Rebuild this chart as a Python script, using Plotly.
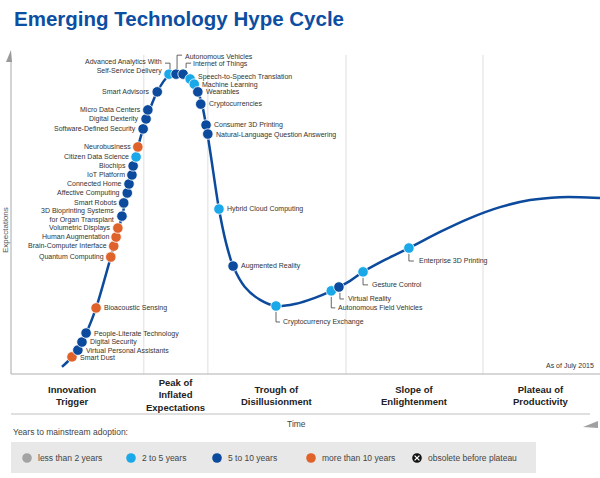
import plotly.graph_objects as go

W, H = 600, 478

# ---------------- data ----------------
names = [
    "Smart Dust", "Virtual Personal Assistants", "Digital Security", "People-Literate Technology",
    "Bioacoustic Sensing", "Quantum Computing", "Brain-Computer Interface", "Human Augmentation",
    "Volumetric Displays", "3D Bioprinting Systems<br>for Organ Transplant", "Smart Robots",
    "Affective Computing", "Connected Home", "IoT Platform", "Biochips", "Citizen Data Science",
    "Neurobusiness", "Software-Defined Security", "Digital Dexterity", "Micro Data Centers",
    "Smart Advisors", "Advanced Analytics With<br>Self-Service Delivery", "Autonomous Vehicles",
    "Internet of Things", "Speech-to-Speech Translation", "Machine Learning", "Wearables",
    "Cryptocurrencies", "Consumer 3D Printing", "Natural-Language Question Answering",
    "Hybrid Cloud Computing", "Augmented Reality", "Cryptocurrency Exchange",
    "Autonomous Field Vehicles", "Virtual Reality", "Gesture Control", "Enterprise 3D Printing",
]
time_pos = [
    10.2, 11.2, 11.9, 12.6, 14.3, 16.8, 17.3, 17.7, 18.0, 18.7, 19.0, 19.6, 19.9, 20.4, 20.6, 21.1,
    21.4, 22.3, 22.8, 23.1, 24.7, 26.7, 27.9, 29.1, 30.3, 31.0, 31.6, 32.1, 33.0, 33.3, 35.2, 37.6,
    44.9, 54.3, 55.6, 59.7, 67.5,
]
expectation = [
    4.7, 6.8, 9.3, 12.1, 19.9, 35.7, 39.1, 41.9, 44.7, 48.4, 52.5, 55.6, 58.4, 61.2, 64.0, 66.8,
    69.9, 75.5, 78.6, 81.4, 87.0, 92.5, 92.5, 92.5, 91.0, 89.4, 87.0, 83.2, 76.7, 73.9, 50.6, 32.9,
    20.5, 25.2, 26.4, 31.1, 38.5,
]
adoption = [
    "gt10", "5to10", "5to10", "5to10", "gt10", "gt10", "gt10", "gt10", "gt10", "5to10", "5to10",
    "5to10", "5to10", "5to10", "5to10", "2to5", "gt10", "5to10", "5to10", "5to10", "5to10", "2to5",
    "5to10", "5to10", "2to5", "2to5", "5to10", "5to10", "5to10", "5to10", "2to5", "5to10", "2to5",
    "2to5", "5to10", "2to5", "2to5",
]

curve_time = [8.5, 10.2, 12.6, 14.3, 16.8, 18.7, 20.6, 22.3, 24.7, 26.7, 28.0, 29.3, 30.3, 31.6,
              32.3, 33.0, 33.8, 35.2, 36.4, 37.6, 39.6, 42.2, 44.9, 48.1, 51.5, 54.3, 57.5, 59.7,
              63.4, 67.5, 72.8, 77.9, 83.0, 88.1, 93.2, 96.6, 100.0]
curve_expect = [1.6, 4.7, 12.1, 19.9, 35.7, 48.4, 64.0, 75.5, 87.0, 92.2, 93.2, 92.5, 91.0, 87.0,
                83.2, 76.7, 67.4, 50.6, 40.1, 32.9, 26.4, 22.4, 20.5, 21.1, 23.0, 25.2, 28.3, 31.1,
                34.8, 38.5, 43.5, 47.8, 51.2, 53.4, 54.3, 54.3, 54.0]

phase_names = ["Innovation<br>Trigger", "Peak of<br>Inflated<br>Expectations",
               "Trough of<br>Disillusionment", "Slope of<br>Enlightenment",
               "Plateau of<br>Productivity"]
phase_bounds = [-2.0, 22.4, 33.3, 56.8, 80.1, 100.0]

legend_keys = ["lt2", "2to5", "5to10", "gt10", "obsolete"]
legend_labels = ["less than 2 years", "2 to 5 years", "5 to 10 years", "more than 10 years",
                 "obsolete before plateau"]

# ---------------- styles ----------------
colors = {"lt2": "#a3a3a3", "2to5": "#1ba8e9", "5to10": "#0b4a9c", "gt10": "#e0622b",
          "obsolete": "#111111"}
FONT = "Liberation Sans, Arial, Helvetica, sans-serif"
LINE_BLUE = "#0b4a9c"
TXT = "#333333"

# label placement: (anchor, dx, dy) in pixels, dy measured downward
label_pos = {
    "Smart Dust": ("left", 7, 1), "Virtual Personal Assistants": ("left", 7, 0),
    "Digital Security": ("left", 7, 0), "People-Literate Technology": ("left", 7, 1),
    "Bioacoustic Sensing": ("left", 7, 0),
    "3D Bioprinting Systems<br>for Organ Transplant": ("right", -7, -1),
    "Advanced Analytics With<br>Self-Service Delivery": ("right", -6, -7.5),
    "Autonomous Vehicles": ("left", 8, -18), "Internet of Things": ("left", 9, -10),
    "Speech-to-Speech Translation": ("left", 7, -2), "Machine Learning": ("left", 7, 1),
    "Wearables": ("left", 7, 0), "Cryptocurrencies": ("left", 7, 0),
    "Consumer 3D Printing": ("left", 7, 0), "Natural-Language Question Answering": ("left", 7, 1),
    "Hybrid Cloud Computing": ("left", 7, 0), "Augmented Reality": ("left", 7, 0),
    "Cryptocurrency Exchange": ("left", 6, 16), "Autonomous Field Vehicles": ("left", 6, 17),
    "Virtual Reality": ("left", 8, 12), "Gesture Control": ("left", 8, 13),
    "Enterprise 3D Printing": ("left", 9, 13),
}
brackets = {
    "Advanced Analytics With<br>Self-Service Delivery": [(1, -5), (1, -11), (-4, -11)],
    "Autonomous Vehicles": [(1, -5), (1, -19), (6, -19)],
    "Internet of Things": [(3, -6), (3, -11), (8, -11)],
    "Cryptocurrency Exchange": [(0, 6), (0, 16), (4, 16)],
    "Autonomous Field Vehicles": [(0, 6), (0, 17), (4, 17)],
    "Virtual Reality": [(1, 6), (1, 12), (5, 12)],
    "Gesture Control": [(0, 6), (0, 13), (5, 13)],
    "Enterprise 3D Printing": [(0, 6), (0, 13), (5, 13)],
}


def PX(x):
    return x / W


def PY(y):
    return 1 - y / H


fig = go.Figure()

fig.add_trace(go.Scatter(x=curve_time, y=curve_expect, mode="lines",
                         line=dict(color=LINE_BLUE, width=2.5, shape="spline", smoothing=0.8),
                         hoverinfo="skip", showlegend=False))
fig.add_trace(go.Scatter(x=time_pos, y=expectation, mode="markers",
                         marker=dict(size=10.5, color=[colors[a] for a in adoption],
                                     line=dict(color="white", width=0.8)),
                         text=[n.replace("<br>", " ") for n in names], hoverinfo="text",
                         showlegend=False))

annotations = []
shapes = []

for n, t, e in zip(names, time_pos, expectation):
    anchor, dx, dy = label_pos.get(n, ("right", -6, 0))
    annotations.append(dict(x=t, y=e, xref="x", yref="y", text=n, showarrow=False,
                            xanchor=anchor, yanchor="middle", xshift=dx - 1 if anchor == "left" else dx + 1,
                            yshift=-dy, align=anchor,
                            font=dict(family=FONT, size=7, color=TXT)))
    if n in brackets:
        pts = brackets[n]
        path = "M " + " L ".join(f"{px} {-py}" for px, py in pts)
        shapes.append(dict(type="path", xref="x", yref="y", xsizemode="pixel", ysizemode="pixel",
                           xanchor=t, yanchor=e, path=path,
                           line=dict(color="#555555", width=0.9)))

# phase dividers
for b in phase_bounds[1:-1]:
    shapes.append(dict(type="line", xref="x", yref="paper", x0=b, x1=b, y0=PY(374), y1=PY(55),
                       line=dict(color="#e9e9e9", width=1.5), layer="below"))

# phase labels
for i, p in enumerate(phase_names):
    cx = (phase_bounds[i] + phase_bounds[i + 1]) / 2
    annotations.append(dict(x=cx, y=PY(395), xref="x", yref="paper", text=f"<b>{p}</b>",
                            showarrow=False, xanchor="center", yanchor="middle",
                            font=dict(family=FONT, size=9.5, color="#222222")))

# axes lines
shapes += [
    dict(type="line", xref="paper", yref="paper", x0=PX(11), x1=PX(11), y0=PY(374), y1=PY(60),
         line=dict(color="#a8a8a8", width=1)),
    dict(type="path", xref="paper", yref="paper",
         path=f"M {PX(11)} {PY(50)} L {PX(12)} {PY(62)} L {PX(6)} {PY(62)} Z",
         fillcolor="#9a9a9a", line=dict(width=0)),
    dict(type="line", xref="paper", yref="paper", x0=PX(11), x1=PX(600), y0=PY(374), y1=PY(374),
         line=dict(color="#b0b0b0", width=1)),
    dict(type="line", xref="paper", yref="paper", x0=PX(11), x1=PX(590), y0=PY(414), y1=PY(414),
         line=dict(color="#c0c0c0", width=1)),
    dict(type="path", xref="paper", yref="paper",
         path=f"M {PX(583)} {PY(427)} L {PX(598)} {PY(421)} L {PX(598)} {PY(428)} Z",
         fillcolor="#a0a0a0", line=dict(width=0)),
]

annotations += [
    dict(x=PX(12), y=PY(18), xref="paper", yref="paper", xanchor="left", yanchor="middle",
         text="<b>Emerging Technology Hype Cycle</b>", showarrow=False,
         font=dict(family=FONT, size=20.5, color="#0c4ea2")),
    dict(x=PX(5), y=PY(230), xref="paper", yref="paper", text="Expectations", textangle=-90,
         showarrow=False, xanchor="center", yanchor="middle",
         font=dict(family=FONT, size=8, color="#555555")),
    dict(x=PX(296), y=PY(424), xref="paper", yref="paper", text="Time", showarrow=False,
         xanchor="center", yanchor="middle", font=dict(family=FONT, size=8.5, color="#444444")),
    dict(x=PX(596), y=PY(366), xref="paper", yref="paper", text="As of July 2015",
         showarrow=False, xanchor="right", yanchor="middle",
         font=dict(family=FONT, size=7, color=TXT)),
    dict(x=PX(11), y=PY(432), xref="paper", yref="paper", text="Years to mainstream adoption:",
         showarrow=False, xanchor="left", yanchor="middle",
         font=dict(family=FONT, size=8.5, color="#444444")),
]

# legend box
shapes.append(dict(type="rect", xref="paper", yref="paper", x0=PX(11), x1=PX(536), y0=PY(442),
                   y1=PY(473), fillcolor="#e8e8e8", line=dict(width=0), layer="below"))
leg_dot_x = [27, 131, 217, 311, 417]
for k, lab, lx in zip(legend_keys, legend_labels, leg_dot_x):
    shapes.append(dict(type="circle", xref="paper", yref="paper", xsizemode="pixel",
                       ysizemode="pixel", xanchor=PX(lx), yanchor=PY(458), x0=-4.8, x1=4.8,
                       y0=-4.8, y1=4.8, fillcolor=colors[k], line=dict(width=0)))
    if k == "obsolete":
        for a, b in [((-2.4, -2.4), (2.4, 2.4)), ((-2.4, 2.4), (2.4, -2.4))]:
            shapes.append(dict(type="line", xref="paper", yref="paper", xsizemode="pixel",
                               ysizemode="pixel", xanchor=PX(lx), yanchor=PY(458), x0=a[0],
                               y0=a[1], x1=b[0], y1=b[1], line=dict(color="white", width=1.3)))
    annotations.append(dict(x=PX(lx + 9), y=PY(458), xref="paper", yref="paper", text=lab,
                            showarrow=False, xanchor="left", yanchor="middle",
                            font=dict(family=FONT, size=8.5, color="#444444")))

fig.update_layout(
    width=W, height=H, margin=dict(l=0, r=0, t=0, b=0),
    paper_bgcolor="white", plot_bgcolor="rgba(0,0,0,0)",
    xaxis=dict(domain=[PX(12), 1], range=[0, 100], visible=False, fixedrange=True),
    yaxis=dict(domain=[PY(372), PY(50)], range=[0, 100], visible=False, fixedrange=True),
    shapes=shapes, annotations=annotations, showlegend=False,
)

fig.write_html("out.html", config={"displayModeBar": False},
               post_script="document.body.style.margin='0';document.body.style.overflow='hidden';")
